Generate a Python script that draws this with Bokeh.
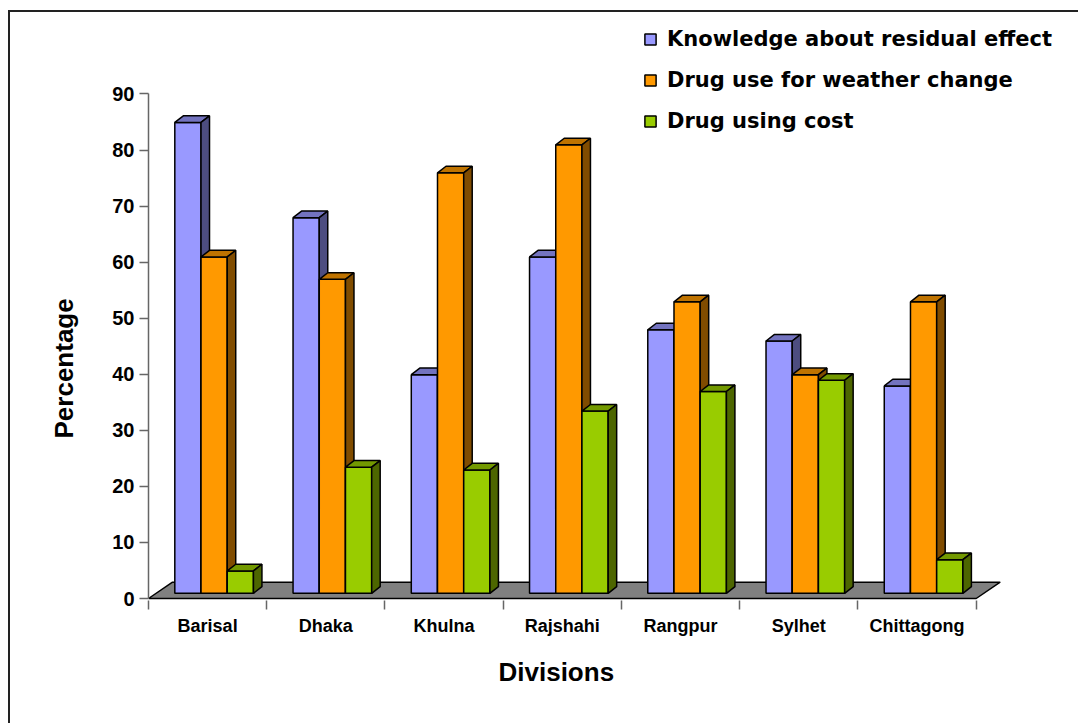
from bokeh.plotting import figure
from bokeh.models import (Range1d, FixedTicker, Legend, LegendItem, Title)
from bokeh.embed import file_html
from bokeh.resources import INLINE

# ---------------- data ----------------
divisions = ["Barisal", "Dhaka", "Khulna", "Rajshahi", "Rangpur", "Sylhet", "Chittagong"]
knowledge = [84, 67, 39, 60, 47, 45, 37]
weather = [60, 56, 75, 80, 52, 39, 52]
cost = [4, 22.5, 22, 32.5, 36, 38, 6]
series_names = ["Knowledge about residual effect", "Drug use for weather change", "Drug using cost"]
y_ticks = [0, 10, 20, 30, 40, 50, 60, 70, 80, 90]

front_colors = ["#9999FF", "#FF9900", "#99CC00"]
top_colors = ["#7373BF", "#BF7300", "#739900"]
side_colors = ["#4D4D80", "#804C00", "#4D6600"]

FONT = "Liberation Sans"

# ---------------- geometry (pixels -> data units) ----------------
W, H = 1078, 723
FRAME_L, FRAME_T, FRAME_W, FRAME_H = 148, 20, 925, 580
PPX = 875 / 7.4          # pixels per category slot
X_END = FRAME_W / PPX
PPY = 5.606              # pixels per percentage point
Y0 = -2 / PPY
Y1 = Y0 + FRAME_H / PPY

floor_dx, floor_dy = 24 / PPX, 16.3 / PPY
bar_off_x, bar_off_y = 6.5 / PPX, 5.2 / PPY
bar_dx, bar_dy = 8.5 / PPX, 6.6 / PPY
group_w = 0.665
bar_w = group_w / 3

p = figure(width=W, height=H, output_backend="svg", toolbar_location=None,
           x_range=Range1d(0, X_END), y_range=Range1d(Y0, Y1),
           frame_width=FRAME_W, frame_height=FRAME_H,
           min_border_left=FRAME_L, min_border_right=W - FRAME_L - FRAME_W,
           min_border_top=FRAME_T, min_border_bottom=H - FRAME_T - FRAME_H,
           background_fill_color="white", border_fill_alpha=0)
p.outline_line_color = None
p.grid.visible = False
# outer chart border (top and left edges visible in the picture)
p.styles = {
    "background-color": "white",
    "background-image": "linear-gradient(#222222, #222222), linear-gradient(#222222, #222222)",
    "background-size": "2px 100%, 100% 2px",
    "background-position": "8px 10px, 8px 10px",
    "background-repeat": "no-repeat",
}

# floor
n = len(divisions)
p.patch([0, n, n + floor_dx, floor_dx], [0, 0, floor_dy, floor_dy],
        fill_color="#808080", line_color="black", line_width=1.5)

legend_items = []
for s, vals in enumerate([knowledge, weather, cost]):
    lefts = [i + 0.5 - group_w / 2 + s * bar_w + bar_off_x for i in range(n)]
    rights = [l + bar_w for l in lefts]
    bottoms = [bar_off_y] * n
    tops = [v + bar_off_y for v in vals]
    front = p.quad(left=lefts, right=rights, bottom=bottoms, top=tops,
                   fill_color=front_colors[s], line_color="black", line_width=1.5)
    top_xs = [[l, r, r + bar_dx, l + bar_dx] for l, r in zip(lefts, rights)]
    top_ys = [[t, t, t + bar_dy, t + bar_dy] for t in tops]
    p.patches(top_xs, top_ys, fill_color=top_colors[s], line_color="black", line_width=1.5)
    side_xs = [[r, r + bar_dx, r + bar_dx, r] for r in rights]
    side_ys = [[b, b + bar_dy, t + bar_dy, t] for b, t in zip(bottoms, tops)]
    p.patches(side_xs, side_ys, fill_color=side_colors[s], line_color="black", line_width=1.5)
    legend_items.append(LegendItem(label=series_names[s], renderers=[front]))

# y axis
ya = p.yaxis[0]
ya.ticker = FixedTicker(ticks=y_ticks, minor_ticks=[])
ya.bounds = (0, 90)
ya.axis_line_color = "#666666"
ya.axis_line_width = 1.5
ya.major_tick_line_color = "#666666"
ya.major_tick_line_width = 1.5
ya.major_tick_out = 9
ya.major_tick_in = 0
ya.minor_tick_out = 0
ya.major_label_standoff = 5
ya.major_label_text_font = FONT
ya.major_label_text_font_style = "bold"
ya.major_label_text_font_size = "20px"
ya.major_label_text_color = "black"

# x axis: tick marks between categories, labels at category centres
xa = p.xaxis[0]
centers = [i + 0.5 for i in range(n)]
xa.ticker = FixedTicker(ticks=centers, minor_ticks=list(range(n + 1)))
xa.major_label_overrides = {c: d for c, d in zip(centers, divisions)}
xa.axis_line_color = None
xa.major_tick_out = 0
xa.major_tick_in = 0
xa.minor_tick_out = 9
xa.minor_tick_in = 0
xa.minor_tick_line_color = "#666666"
xa.minor_tick_line_width = 1.5
xa.major_label_standoff = 6
xa.major_label_text_font = FONT
xa.major_label_text_font_style = "bold"
xa.major_label_text_font_size = "18px"
xa.major_label_text_color = "black"

# axis titles
p.add_layout(Title(text="Percentage", align="left", offset=162, vertical_align="middle",
                   standoff=60, text_font=FONT, text_font_style="bold",
                   text_font_size="26px", text_color="black"), "left")
p.add_layout(Title(text="Divisions", align="left", offset=350, vertical_align="middle",
                   standoff=34, text_font=FONT, text_font_style="bold",
                   text_font_size="26px", text_color="black"), "below")

# legend
legend = Legend(items=legend_items, location=(643 - FRAME_L, FRAME_T + FRAME_H - 134),
                orientation="vertical", border_line_color=None, background_fill_alpha=0,
                padding=0, margin=0, spacing=15, glyph_width=14, glyph_height=14,
                label_height=26, label_standoff=10,
                label_text_font="DejaVu Sans", label_text_font_style="bold",
                label_text_font_size="21px", label_text_color="black")
p.add_layout(legend)

open("out.html", "w").write(file_html(p, INLINE))
